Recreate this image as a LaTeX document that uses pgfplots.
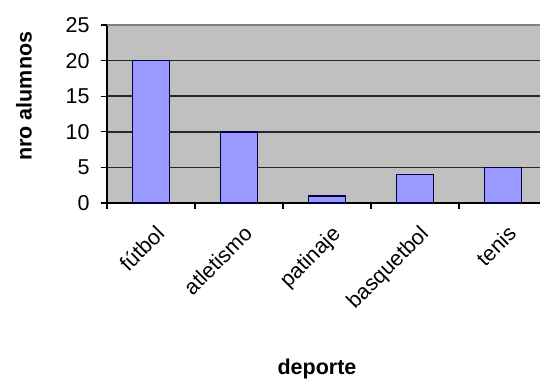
\documentclass[border=0pt]{standalone}
\usepackage{fontspec}
\setmainfont{Liberation Sans}
\usepackage{pgfplots}
\pgfplotsset{compat=1.18}
\definecolor{bgray}{HTML}{C0C0C0}
\definecolor{barblue}{HTML}{9999FF}
\begin{document}
\begin{tikzpicture}
\begin{axis}[
  scale only axis, width=433pt, height=178pt,
  at={(0,0)}, anchor=south west,
  xmin=-0.5, xmax=4.42, ymin=0, ymax=25,
  axis lines*=left,
  axis line style={black, line width=1.2pt},
  axis background/.style={fill=bgray},
  ytick={0,5,10,15,20,25},
  ymajorgrids, grid style={black!85, line width=1.5pt},
  xtick={-0.5,0.5,1.5,2.5,3.5}, xticklabels={},
  extra x ticks={0,1,2,3,4},
  extra x tick labels={fútbol,atletismo,patinaje,basquetbol,tenis},
  extra x tick style={major tick length=0pt, grid=none,
     xticklabel style={rotate=45, anchor=north east, xshift=-9pt, yshift=-14pt}},
  tick align=outside, major tick length=6pt,
  tick style={black, line width=1.2pt},
  /pgf/number format/assume math mode=true,
  ticklabel style={font=\fontsize{21.5}{25}\selectfont},
  yticklabel style={xshift=-8pt},
  xlabel={\textbf{deporte}},
  xlabel style={font=\fontsize{21.5}{25}\selectfont, at={(axis description cs:0.485,0)}, anchor=center, yshift=-166pt},
  ylabel={\textbf{nro alumnos}},
  ylabel style={font=\fontsize{21.5}{25}\selectfont, at={(axis description cs:-0.192,0.6)}, anchor=center},
  clip=false,
]
\draw[gray, line width=1.2pt] (axis cs:-0.5,25) -- (axis cs:4.42,25);
\addplot[ybar, bar width=37pt, fill=barblue, draw=black!75!blue, line width=1.5pt]
  coordinates {(0,20) (1,10) (2,1) (3,4) (4,5)};
\end{axis}
\pgfresetboundingbox
\path (-107pt,-182pt) rectangle (433pt,203pt);
\end{tikzpicture}
\end{document}
